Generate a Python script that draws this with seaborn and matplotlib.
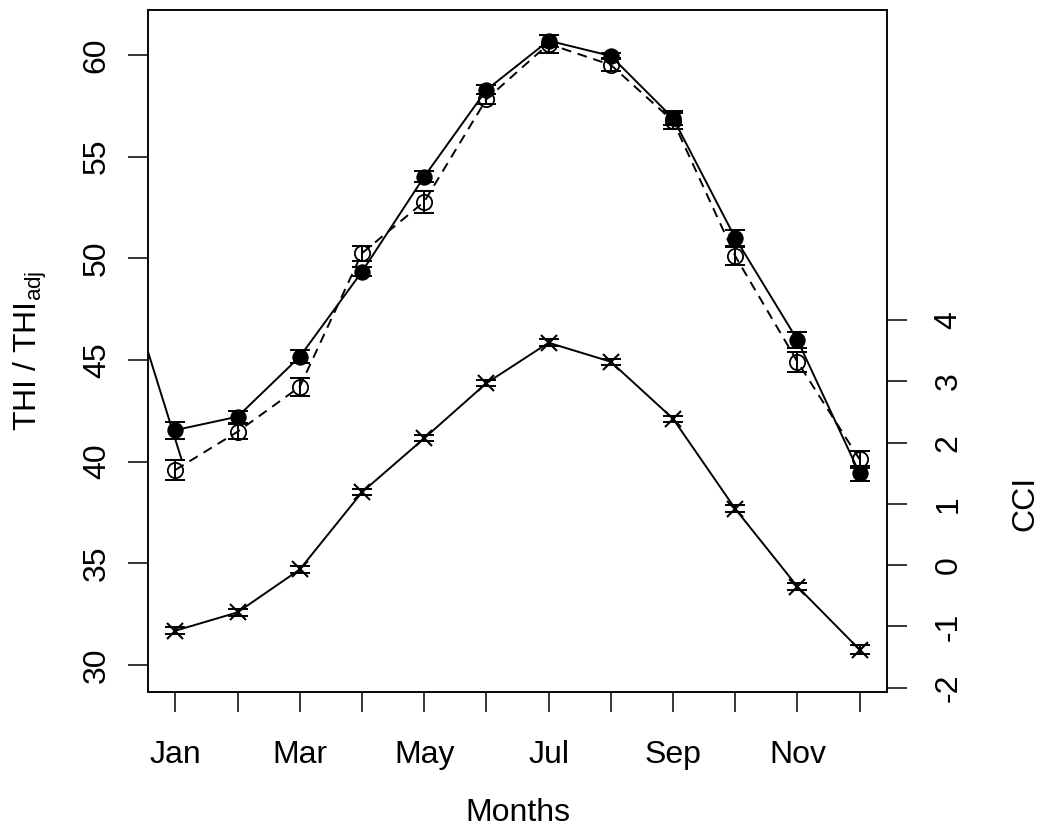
import numpy as np
import pandas as pd
import seaborn as sns
import matplotlib.pyplot as plt

# --- Data ---
months = ['Jan', 'Feb', 'Mar', 'Apr', 'May', 'Jun', 'Jul', 'Aug', 'Sep', 'Oct', 'Nov', 'Dec']
month_num = list(range(1, 13))
tick_labels = ['Jan', '', 'Mar', '', 'May', '', 'Jul', '', 'Sep', '', 'Nov', '']

thi = [41.55, 42.21, 45.16, 49.34, 54.01, 58.28, 60.70, 59.95, 56.89, 51.00, 45.98, 39.42]
thi_err = [0.42, 0.29, 0.31, 0.22, 0.28, 0.22, 0.30, 0.16, 0.35, 0.39, 0.39, 0.38]

thi_adj = [39.59, 41.47, 43.68, 50.25, 52.78, 57.82, 60.54, 59.51, 56.75, 50.11, 44.91, 40.11]
thi_adj_err = [0.51, 0.38, 0.43, 0.36, 0.55, 0.25, 0.45, 0.32, 0.40, 0.43, 0.49, 0.40]

cci = [-1.07, -0.77, -0.07, 1.19, 2.07, 2.97, 3.63, 3.32, 2.39, 0.92, -0.35, -1.38]
cci_err = [0.06, 0.06, 0.06, 0.05, 0.05, 0.05, 0.06, 0.05, 0.05, 0.06, 0.06, 0.07]

# stray segment entering from the left edge
stray_x = [0.0, 1.1]
stray_y = [50.9, 40.1]

cci_ticks = [-2, -1, 0, 1, 2, 3, 4]
thi_ticks = [30, 35, 40, 45, 50, 55, 60]

df = pd.DataFrame({'month': month_num, 'thi': thi, 'thi_adj': thi_adj, 'cci': cci})

# --- Style ---
sns.set_theme(style='ticks', rc={
    'axes.edgecolor': 'black', 'axes.linewidth': 1.1,
    'xtick.color': 'black', 'ytick.color': 'black',
    'text.color': 'black', 'axes.labelcolor': 'black',
    'xtick.major.size': 14.4, 'ytick.major.size': 14.4,
    'xtick.major.width': 1.1, 'ytick.major.width': 1.1,
})
plt.rcParams['font.family'] = ['Liberation Sans', 'DejaVu Sans']
plt.rcParams['mathtext.fontset'] = 'custom'
plt.rcParams['mathtext.rm'] = 'Liberation Sans'
plt.rcParams['mathtext.it'] = 'Liberation Sans:italic'

fs = 23
lw = 1.4

fig = plt.figure(figsize=(10.41, 8.31), dpi=100)
ax = fig.add_axes([148 / 1041, 1 - 692 / 831, 739 / 1041, 682 / 831])

# THI (filled, solid)
sns.lineplot(data=df, x='month', y='thi', ax=ax, color='black', lw=lw,
             marker='o', markersize=11, markerfacecolor='black',
             markeredgecolor='black', zorder=3)
ax.errorbar(month_num, thi, yerr=thi_err, fmt='none', ecolor='black',
            elinewidth=lw, capsize=7, capthick=lw, zorder=3)

# THI_adj (open, dashed)
sns.lineplot(data=df, x='month', y='thi_adj', ax=ax, color='black', lw=lw,
             linestyle=(0, (5, 3.5)), marker='o', markersize=11,
             markerfacecolor='none', markeredgecolor='black',
             markeredgewidth=1.3, zorder=2)
ax.errorbar(month_num, thi_adj, yerr=thi_adj_err, fmt='none', ecolor='black',
            elinewidth=lw, capsize=7, capthick=lw, zorder=2)

ax.plot(stray_x, stray_y, color='black', lw=lw, zorder=2)

ax.set_xlim(0.56, 12.44)
ax.set_ylim(28.67, 62.21)
ax.set_xticks(month_num)
ax.set_xticklabels(tick_labels, fontsize=fs)
ax.set_yticks(thi_ticks)
ax.set_yticklabels([str(t) for t in thi_ticks], fontsize=fs, rotation=90, va='center')
ax.tick_params(axis='x', pad=20.5)
ax.tick_params(axis='y', pad=11.7)
ax.set_xlabel('Months', fontsize=fs, labelpad=20)
ax.set_ylabel(r'THI / THI$_{\mathrm{adj}}$', fontsize=fs, labelpad=23.5)

# CCI on the right axis
ax2 = ax.twinx()
sns.lineplot(data=df, x='month', y='cci', ax=ax2, color='black', lw=lw,
             marker='x', markersize=11, markeredgewidth=1.5,
             markeredgecolor='black')
ax2.errorbar(month_num, cci, yerr=cci_err, fmt='none', ecolor='black',
             elinewidth=lw, capsize=7, capthick=lw)
ax2.set_ylim(-2.07, 9.06)
ax2.set_yticks(cci_ticks)
ax2.set_yticklabels([str(t) for t in cci_ticks], fontsize=fs, rotation=90, va='center')
ax2.tick_params(axis='y', pad=19)
ax2.set_ylabel('CCI', fontsize=fs, labelpad=34)
# centre the CCI label on the CCI tick range
ax2.yaxis.label.set_y((1 - (-2.07)) / (9.06 + 2.07))
ax2.set_xlim(0.56, 12.44)

fig.savefig('out.png', dpi=100)
